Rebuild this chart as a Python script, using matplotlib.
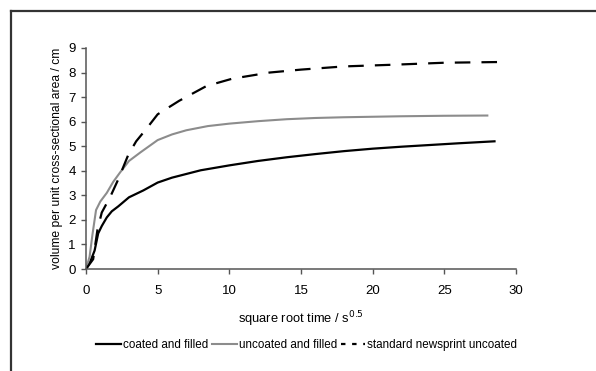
import matplotlib
matplotlib.use("Agg")
from matplotlib import pyplot as plt
from matplotlib.lines import Line2D

plt.rcParams['font.family'] = ['Liberation Sans', 'DejaVu Sans']

# coated and filled
x_coated = [0, 0.3, 0.6, 0.85, 1.1, 1.45, 1.8, 2.25, 3.0, 4.0, 5.0, 6.0, 8.0,
            10, 12, 14, 16, 18, 20, 22, 24, 26, 28.5]
y_coated = [0, 0.3, 0.75, 1.45, 1.75, 2.1, 2.35, 2.55, 2.92, 3.2, 3.52, 3.72, 4.02,
            4.22, 4.4, 4.55, 4.68, 4.8, 4.9, 4.98, 5.05, 5.12, 5.2]

# uncoated and filled
x_uncoated = [0, 0.25, 0.45, 0.7, 1.0, 1.45, 1.9, 2.4, 3.0, 3.8, 5.0, 6.0, 7.0,
              8.5, 10, 12, 14, 16, 18, 20, 22, 25, 28]
y_uncoated = [0, 0.5, 1.4, 2.4, 2.75, 3.1, 3.55, 3.95, 4.4, 4.75, 5.25, 5.48, 5.65,
              5.82, 5.92, 6.02, 6.1, 6.15, 6.18, 6.2, 6.22, 6.24, 6.25]

# standard newsprint uncoated
x_news = [0, 0.5, 0.8, 1.1, 1.7, 2.25, 2.95, 3.5, 4.2, 5.0, 6.5, 8.4, 10.2,
          12.8, 15, 18, 21.5, 25, 29]
y_news = [0, 0.4, 1.6, 2.3, 2.95, 3.65, 4.65, 5.2, 5.7, 6.3, 6.85, 7.45, 7.75,
          8.0, 8.12, 8.25, 8.32, 8.4, 8.43]

labels = ['coated and filled', 'uncoated and filled', 'standard newsprint uncoated']
xticks = [0, 5, 10, 15, 20, 25, 30]
yticks = [0, 1, 2, 3, 4, 5, 6, 7, 8, 9]

fig = plt.figure(figsize=(5.96, 3.71), dpi=100)
ax = fig.add_axes([86 / 596, 1 - 269 / 371, 430 / 596, 221 / 371])

ax.plot(x_coated, y_coated, color='black', lw=1.6)
ax.plot(x_uncoated, y_uncoated, color='#8c8c8c', lw=1.5)
ax.plot(x_news, y_news, color='black', lw=1.6, dashes=(7, 5))

ax.set_xlim(0, 30)
ax.set_ylim(0, 9)
ax.set_xticks(xticks)
ax.set_yticks(yticks)
for s in ['top', 'right']:
    ax.spines[s].set_visible(False)
for s in ['left', 'bottom']:
    ax.spines[s].set_color('#555555')
    ax.spines[s].set_linewidth(1.1)
ax.tick_params(direction='out', length=3.5, width=1.0, color='#555555',
               labelsize=9.5, pad=4)
ax.tick_params(axis='x', pad=8)

ax.set_xlabel('square root time / s$^{0.5}$', fontsize=9.3, labelpad=9)
ax.set_ylabel('volume per unit cross-sectional area / cm', fontsize=8.7, labelpad=4)

# legend
handles = [Line2D([], [], color='black', lw=1.6),
           Line2D([], [], color='#8c8c8c', lw=1.5),
           Line2D([], [], color='black', lw=1.6, dashes=(2, 3))]
fig.legend(handles, labels, loc='center', bbox_to_anchor=(307 / 596, 1 - 345 / 371),
           ncol=3, frameon=False, fontsize=8.4, handlelength=2.1,
           handletextpad=0.2, columnspacing=0.3)

# outer border
fig.add_artist(Line2D([11 / 596, 1], [1 - 11 / 371, 1 - 11 / 371],
                      transform=fig.transFigure, color='#333333', lw=1.6))
fig.add_artist(Line2D([11 / 596, 11 / 596], [0, 1 - 11 / 371],
                      transform=fig.transFigure, color='#333333', lw=1.6))

fig.savefig('out.png', dpi=100)
